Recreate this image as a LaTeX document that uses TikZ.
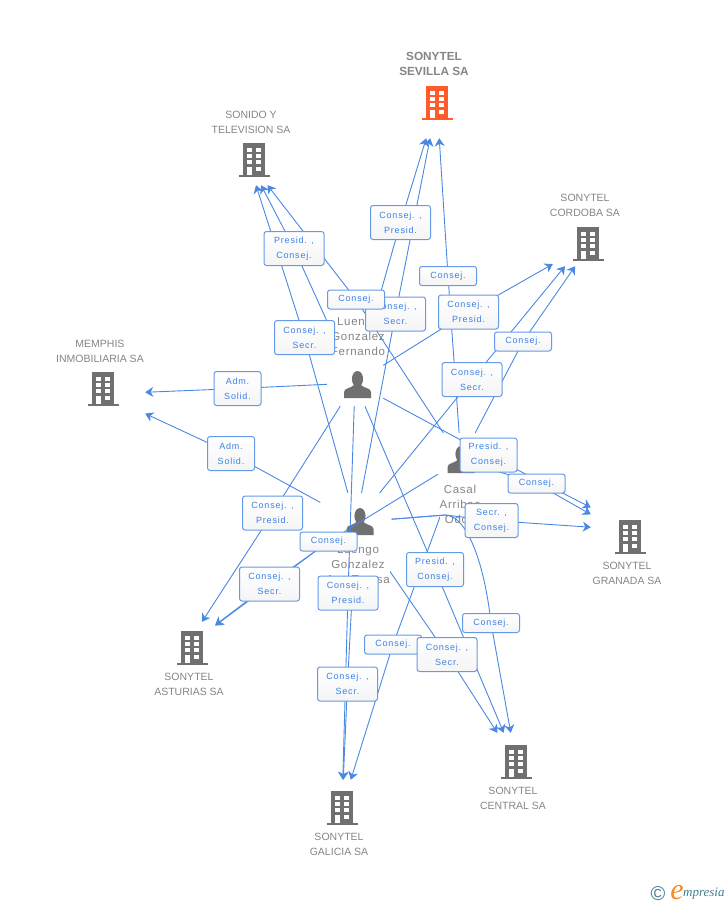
\documentclass[tikz,border=0pt]{standalone}
\usepackage{fontspec}
\setmainfont{Liberation Sans}
\newfontfamily\labfont[LetterSpace=9]{Liberation Sans}
\newfontfamily\persfont[LetterSpace=6]{Liberation Sans}
\newfontfamily\logofont{Liberation Serif}
\usetikzlibrary{arrows.meta}
\usetikzlibrary{positioning}
\definecolor{linkblue}{HTML}{4A88E4}
\definecolor{textblue}{HTML}{3C80E6}
\definecolor{icongray}{HTML}{707070}
\definecolor{namegray}{HTML}{858585}
\definecolor{sevred}{HTML}{FF5B2B}
\definecolor{logoteal}{HTML}{3F7F92}
\definecolor{logoorange}{HTML}{F58A1F}
\pgfdeclarelayer{bg}
\pgfsetlayers{bg,main}
\tikzset{
   link/.style={draw=linkblue,line width=.9pt},
   tip/.style={link,-{Stealth[length=8pt,width=10pt,inset=2.5pt]}},
   lab/.style={draw=linkblue!85,line width=1pt,rounded corners=2.5pt,top color=white,bottom color=black!4,
     text=textblue,align=center,inner sep=0pt,font=\labfont\fontsize{9}{15}\selectfont},
   lab2/.style={lab,minimum width=60pt,minimum height=34pt},
   lab1/.style={lab,minimum width=57pt,minimum height=19pt},
   labadm/.style={lab,minimum width=47pt,minimum height=34pt},
   coname/.style={align=center,text=namegray,inner sep=0pt,font=\fontsize{10.5}{15}\selectfont},
   pername/.style={align=center,text=namegray,inner xsep=0pt,inner ysep=4pt,font=\persfont\fontsize{11.5}{15}\selectfont,fill=white},
   hit/.style={inner sep=0pt},
}
% building icon: centre, colour
\newcommand{\bldg}[2]{
 \begin{scope}[shift={#1}]
  \fill[#2] (-11,-17) rectangle (11,15);
  \fill[#2] (-15,15) rectangle (16,17);
  \foreach \yy/\hh in {-12/-8.5,-6/-2,0/4}{
    \fill[white] (-7,\yy) rectangle (-2,\hh);
    \fill[white] (2,\yy) rectangle (7,\hh);
  }
  \fill[white] (2,7) rectangle (7,11);
  \fill[white] (-7,7) rectangle (-2,15);
 \end{scope}
}
% person icon
\newcommand{\perso}[1]{
 \begin{scope}[shift={#1}]
  \fill[icongray] (0,-6) ellipse (5.6 and 8);
  \fill[icongray] (-13.5,13) -- (-13.5,7) .. controls (-13.5,3) and (-6,3) .. (-3.5,0) -- (3.5,0)
     .. controls (6,3) and (13.5,3) .. (13.5,7) -- (13.5,13) -- cycle;
 \end{scope}
}
\begin{document}
\begin{tikzpicture}[x=1pt,y=-1pt]
\useasboundingbox (0,0) rectangle (728,905);

% companies
\node[hit,minimum width=70pt,minimum height=70pt] (sevilla) at (437,103) {};
\node[hit,minimum width=60pt,minimum height=50pt] (sonido) at (248,160) {};
\node[hit,minimum width=70pt,minimum height=44pt] (cordoba) at (588,244) {};
\node[hit,minimum width=84pt,minimum height=46pt] (memphis) at (103,394) {};
\node[hit,minimum width=78pt,minimum height=70pt] (granada) at (630,537) {};
\node[hit,minimum width=60pt,minimum height=52pt] (asturias) at (185,648) {};
\node[hit,minimum width=60pt,minimum height=56pt] (galicia) at (342,808) {};
\node[hit,minimum width=60pt,minimum height=58pt] (central) at (516,762) {};

% persons
\node[hit,minimum width=56pt,minimum height=46pt] (per1) at (355,383) {};
\node[hit,minimum width=46pt,minimum height=54pt] (per2) at (461,460) {};
\node[hit,minimum width=71pt,minimum height=58pt] (per3) at (356,522) {};
\coordinate (bendc) at (445,515);

% labels
\node[lab2] (l1) at (400.5,222.5) {Consej. ,\\Presid.};
\node[lab2] (l2) at (294,248.5) {Presid. ,\\Consej.};
\node[lab1] (l3) at (448,276) {Consej.};
\node[lab2] (l5) at (395.5,314) {Consej. ,\\Secr.};
\node[lab1] (l4) at (356,299.5) {Consej.};
\node[lab2] (l6) at (468.5,312) {Consej. ,\\Presid.};
\node[lab2] (l7) at (304.5,337.5) {Consej. ,\\Secr.};
\node[lab1] (l8) at (523,341.5) {Consej.};
\node[lab2] (l9) at (472,379.5) {Consej. ,\\Secr.};
\node[labadm] (l10) at (237.5,388.5) {Adm.\\Solid.};
\node[labadm] (l11) at (231,453.5) {Adm.\\Solid.};
\node[lab2,minimum width=57pt] (l12) at (488.5,455) {Presid. ,\\Consej.};
\node[lab1] (l13) at (536.5,483.5) {Consej.};
\node[lab2] (l14) at (272.5,513) {Consej. ,\\Presid.};
\node[lab2,minimum width=53pt] (l15) at (491.5,520.5) {Secr. ,\\Consej.};
\node[lab2] (l17) at (269.5,584) {Consej. ,\\Secr.};
\node[lab1] (l16) at (328.5,541.5) {Consej.};
\node[lab2,minimum width=57pt] (l18) at (435,569.5) {Presid. ,\\Consej.};
\node[lab2] (l19) at (348,593) {Consej. ,\\Presid.};
\node[lab1] (l20) at (491,623) {Consej.};
\node[lab1] (l21) at (393,644.5) {Consej.};
\node[lab2] (l22) at (447,654.5) {Consej. ,\\Secr.};
\node[lab2] (l23) at (347.5,684) {Consej. ,\\Secr.};

% logo
\node[inner sep=0pt,text=logoteal,font=\fontsize{20}{20}\selectfont] (logoc) at (658,894) {\textcopyright};
\node[inner sep=0pt,text=logoorange,font=\logofont\itshape\fontsize{30}{30}\selectfont] (logoe) at (677,893) {e};
\node[inner sep=0pt,text=logoteal,font=\logofont\itshape\fontsize{13}{14}\selectfont,anchor=west] (logot) at (683,894) {mpresia};

\begin{pgfonlayer}{bg}
\bldg{(437,103)}{sevred}
\bldg{(254,160)}{icongray}
\bldg{(588,244)}{icongray}
\bldg{(103,389)}{icongray}
\bldg{(630,537)}{icongray}
\bldg{(192,648)}{icongray}
\bldg{(342,808)}{icongray}
\bldg{(516,762)}{icongray}
\perso{(357.5,385)}
\perso{(461,460)}
\perso{(360,522)}

\node[coname,font=\bfseries\fontsize{11.8}{15}\selectfont] (tsev) at (434,64) {SONYTEL\\SEVILLA SA};
\node[coname] (tson) at (251,122) {SONIDO Y\\TELEVISION SA};
\node[coname] (tcor) at (585,205.5) {SONYTEL\\CORDOBA SA};
\node[coname] (tmem) at (100,351) {MEMPHIS\\INMOBILIARIA SA};
\node[coname] (tgra) at (627,573.5) {SONYTEL\\GRANADA SA};
\node[coname] (tast) at (189,684.5) {SONYTEL\\ASTURIAS SA};
\node[coname] (tgal) at (339,844.5) {SONYTEL\\GALICIA SA};
\node[coname] (tcen) at (513,798.5) {SONYTEL\\CENTRAL SA};

% first person
\draw[tip] (per1) -- (l10.center) -- (memphis);
\draw[tip] (per1) -- (l2.center) -- (sonido);
\draw[tip] (per1) -- (l1.center) -- (sevilla);
\draw[tip] (per1) -- (l6.center) -- (cordoba);
\draw[tip] (per1) -- (l12.center) -- (granada.143);
\draw[tip] (per1) -- (l14.center) -- (asturias);
\draw[tip] (per1) -- (l18.center) -- (central);
\node[pername] (tper1) at (358,337) {Luengo\\Gonzalez\\Fernando};

% second person
\draw[tip] (per2) -- (l3.center) -- (sevilla);
\draw[tip] (per2) -- (l4.center) -- (sonido);
\draw[tip] (per2) -- (l8.center) -- (cordoba.-120);
\draw[tip] (per2) -- (l13.center) -- (granada.150);
\draw[tip] (per2) -- (l16.center) -- (asturias);
\draw[tip] (per2) -- (l21.center) -- (galicia);
\node[pername] (tper2) at (460,504) {Casal\\Arribas\\Odon};

% third person
\draw[tip] (per3) -- (l5.center) -- (sevilla);
\draw[tip] (per3) -- (l7.center) -- (sonido);
\draw[tip] (per3) -- (l9.center) -- (cordoba.-136);
\draw[tip] (per3) -- (l11.center) -- (memphis);
\draw[tip] (per3) -- (bendc) -- (l15.center) -- (granada.166);
\draw[tip] (per3) -- (l17.center) -- (asturias);
\draw[tip] (per3) -- (l23.center) -- (galicia);
\draw[tip] (per3) -- (l22.center) -- (central);
\draw[tip] (per3) -- (bendc) .. controls (466,515) and (484,560) .. (l20.center) -- (central);
\node[pername] (tper3) at (358,565) {Luengo\\Gonzalez\\Ana Teresa};

\draw[tip] (per1) -- (l19.center) -- (galicia);
\end{pgfonlayer}
\end{tikzpicture}
\end{document}
